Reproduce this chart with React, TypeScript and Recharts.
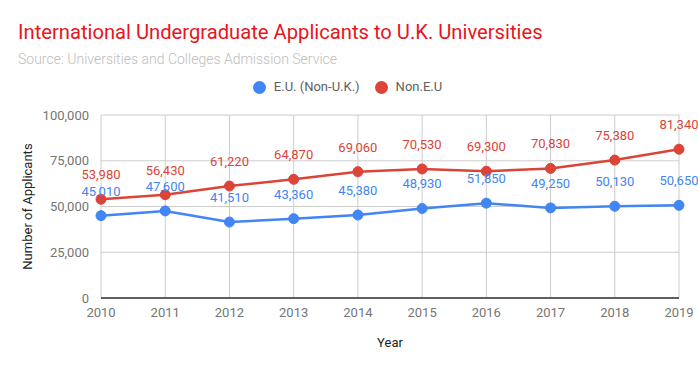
import React from 'react';
import { LineChart, Line, XAxis, YAxis, CartesianGrid, Legend, LabelList } from 'recharts';

const years = ['2010', '2011', '2012', '2013', '2014', '2015', '2016', '2017', '2018', '2019'];
const euApplicants = [45010, 47600, 41510, 43360, 45380, 48930, 51850, 49250, 50130, 50650];
const nonEuApplicants = [53980, 56430, 61220, 64870, 69060, 70530, 69300, 70830, 75380, 81340];
const yTicks = [0, 25000, 50000, 75000, 100000];

const data = years.map((year, i) => ({
  year,
  eu: euApplicants[i],
  nonEu: nonEuApplicants[i],
}));

const BLUE = '#4285f4';
const RED = '#db4437';
const FONT = 'Roboto, "Noto Sans", sans-serif';

const fmt = (v: number) => v.toLocaleString('en-US');

const YLabel = (props: any) => {
  const { viewBox } = props;
  const cy = viewBox.y + viewBox.height / 2;
  return (
    <text
      x={27}
      y={cy}
      transform={`rotate(-90, 27, ${cy})`}
      textAnchor="middle"
      dominantBaseline="central"
      fill="#222"
      fontSize={13}
      fontFamily={FONT}
    >
      Number of Applicants
    </text>
  );
};

const App = () => {
  return (
    <div style={{ position: 'absolute', left: 0, top: 0, width: 698, height: 371, background: '#fff', fontFamily: FONT }}>
      <div style={{ position: 'absolute', left: 18, top: 20, fontSize: 20.2, color: '#e8151b', whiteSpace: 'nowrap' }}>
        International Undergraduate Applicants to U.K. Universities
      </div>
      <div style={{ position: 'absolute', left: 18, top: 51, fontSize: 14, color: '#bdbdbd', fontWeight: 300, whiteSpace: 'nowrap' }}>
        Source: Universities and Colleges Admission Service
      </div>
      <LineChart
        width={698}
        height={371}
        data={data}
        margin={{ top: 100, right: 19, bottom: 18, left: 20 }}
        style={{ fontFamily: FONT }}
      >
        <CartesianGrid stroke="#cccccc" strokeWidth={1} />
        <XAxis
          dataKey="year"
          height={55}
          tickLine={false}
          axisLine={{ stroke: '#333', strokeWidth: 1.5 }}
          tick={{ fill: '#757575', fontSize: 13 }}
          tickMargin={4}
          label={{ value: 'Year', position: 'insideBottom', offset: 6, fill: '#222', fontSize: 13 }}
        />
        <YAxis
          width={81}
          domain={[0, 100000]}
          ticks={yTicks}
          tickFormatter={fmt}
          tickLine={false}
          axisLine={false}
          tick={{ fill: '#757575', fontSize: 13 }}
          tickMargin={6}
          label={<YLabel />}
        />
        <Legend
          verticalAlign="top"
          iconType="circle"
          iconSize={13}
          wrapperStyle={{ position: 'absolute', top: 79, left: 6, width: 698, fontSize: 13 }}
          formatter={(value: string) => <span style={{ color: '#616161', marginLeft: 4, marginRight: 5 }}>{value}</span>}
        />
        <Line
          dataKey="eu"
          name="E.U. (Non-U.K.)"
          stroke={BLUE}
          strokeWidth={2.5}
          dot={{ r: 5, fill: BLUE, stroke: BLUE, strokeWidth: 1 }}
          isAnimationActive={false}
        >
          <LabelList dataKey="eu" position="top" offset={20} formatter={fmt} fill={BLUE} fontSize={13} />
        </Line>
        <Line
          dataKey="nonEu"
          name="Non.E.U"
          stroke={RED}
          strokeWidth={2.5}
          dot={{ r: 5, fill: RED, stroke: RED, strokeWidth: 1 }}
          isAnimationActive={false}
        >
          <LabelList dataKey="nonEu" position="top" offset={20} formatter={fmt} fill={RED} fontSize={13} />
        </Line>
      </LineChart>
    </div>
  );
};

export default App;
